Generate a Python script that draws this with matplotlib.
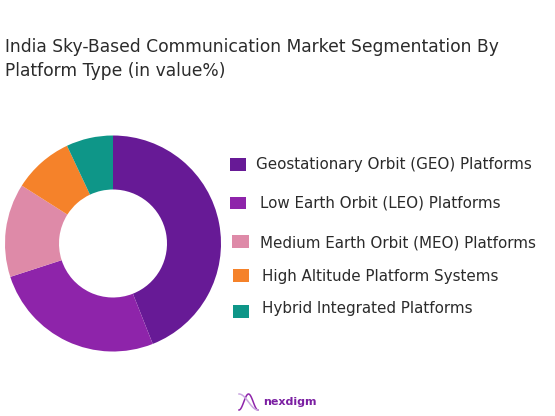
import numpy as np
import matplotlib
matplotlib.use("Agg")
import matplotlib.pyplot as plt
from matplotlib.patches import Rectangle

categories = ["Geostationary Orbit (GEO) Platforms", "Low Earth Orbit (LEO) Platforms",
              "Medium Earth Orbit (MEO) Platforms", "High Altitude Platform Systems",
              "Hybrid Integrated Platforms"]
values = [44, 26, 14, 9, 7]
colors = ["#671a96", "#8e24aa", "#de8aa8", "#f5822a", "#0e9688"]
title_lines = ["India Sky-Based Communication Market Segmentation By",
               "Platform Type (in value%)"]

W, H = 555, 416
FONT = "DejaVu Sans"
TEXT = "#2b2b2b"
fig = plt.figure(figsize=(W/100, H/100), dpi=100, facecolor="white")

# donut
cx, cy, r = 113, 243.5, 108
ax = fig.add_axes([(cx-r)/W, 1-(cy+r)/H, 2*r/W, 2*r/H])
ax.pie(values, colors=colors, startangle=90, counterclock=False, radius=1,
       wedgeprops=dict(width=0.5, linewidth=0))
ax.set_xlim(-1, 1); ax.set_ylim(-1, 1); ax.set_aspect("equal")

# overlay in pixel coordinates
ov = fig.add_axes([0, 0, 1, 1], facecolor="none")
ov.set_xlim(0, W); ov.set_ylim(H, 0); ov.axis("off")

for line, y in zip(title_lines, [47, 71]):
    ov.text(5, y, line, fontsize=12.3, family=FONT, color=TEXT, va="center", ha="left")

swatch_x = [229.5, 229.5, 232, 232.5, 232.5]
swatch_y = [164, 202.5, 241, 275, 311]
text_x = [256, 259.5, 259.5, 261.5, 261.5]
text_y = [164, 202.5, 243, 276.5, 309]
for c, col, sx, sy, tx, ty in zip(categories, colors, swatch_x, swatch_y, text_x, text_y):
    ov.add_patch(Rectangle((sx, sy-6), 16.5, 12.5, facecolor=col, edgecolor="none"))
    ov.text(tx, ty, c, fontsize=10.9, family=FONT, color=TEXT, va="center", ha="left")

# logo
t = np.linspace(0, 1, 60)
lx = 239 + 19*t
ov.plot(lx, 402 + 8*np.cos(np.pi*2*t), color="#8e24aa", lw=1.1)
ov.plot(lx, 402 - 8*np.cos(np.pi*t), color="#c9a6e0", lw=1.1)
ov.text(263, 402, "nexdigm", fontsize=8.0, family=FONT, fontweight="bold",
        color="#7b1fa2", va="center", ha="left")

fig.savefig("out.png", dpi=100, facecolor="white")
